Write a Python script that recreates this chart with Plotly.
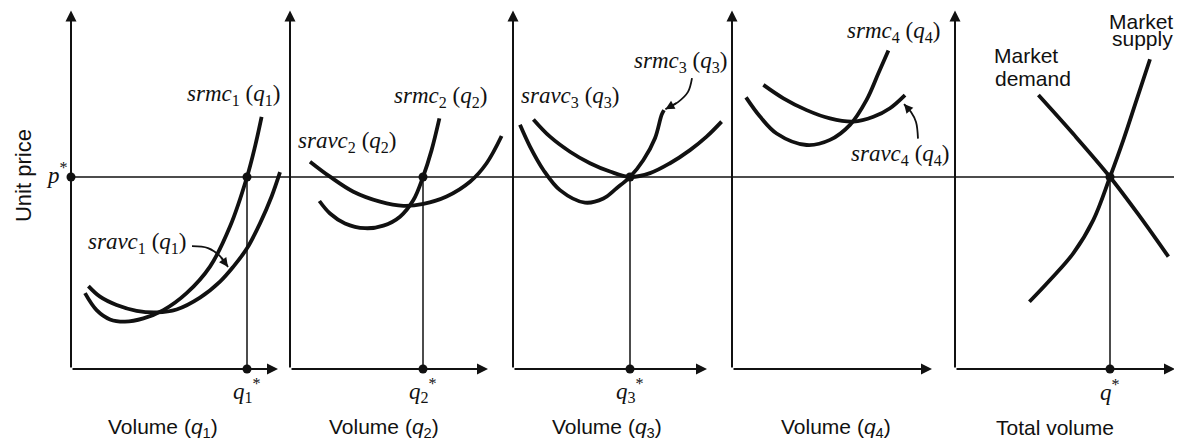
import plotly.graph_objects as go

# ---------------- data (panel-local units: volume, unit price) ----------------
P_STAR = 6.0
Q_STAR = [8.8, 6.65, 5.85, None, 7.75]
Y_AXIS_TOP = 11.2
X_AXIS_END = [10.35, 9.9, 9.7, 10.0, 11.0]

srmc1_x = [0.70, 1.28, 1.95, 2.70, 3.62, 4.62, 5.78, 6.95, 7.95, 8.80, 9.20, 9.53]
srmc1_y = [2.37, 1.84, 1.55, 1.48, 1.58, 1.84, 2.37, 3.20, 4.45, 6.00, 6.95, 7.88]
sravc1_x = [0.87, 1.45, 2.28, 3.28, 4.28, 5.28, 6.45, 7.45, 8.12, 8.80, 9.45, 10.03, 10.45]
sravc1_y = [2.59, 2.26, 2.00, 1.82, 1.77, 1.86, 2.23, 2.73, 3.20, 3.77, 4.55, 5.39, 6.15]

srmc2_x = [1.47, 2.00, 2.75, 3.75, 4.67, 5.50, 6.17, 6.65, 7.08, 7.47]
srmc2_y = [5.25, 4.86, 4.55, 4.40, 4.48, 4.76, 5.28, 6.00, 6.84, 7.83]
sravc2_x = [1.00, 2.00, 3.17, 4.50, 5.67, 6.67, 7.83, 9.00, 9.83, 10.58]
sravc2_y = [6.48, 6.01, 5.54, 5.23, 5.10, 5.16, 5.39, 5.85, 6.43, 7.28]

srmc3_x = [0.35, 0.85, 1.52, 2.35, 3.60, 4.52, 5.18, 5.85, 6.52, 7.10, 7.43, 7.55]
srmc3_y = [7.63, 6.95, 6.22, 5.59, 5.20, 5.33, 5.65, 6.00, 6.53, 7.21, 7.94, 8.09]
sravc3_x = [1.02, 1.85, 2.85, 3.85, 4.85, 5.85, 6.85, 7.85, 8.85, 9.68, 10.43]
sravc3_y = [7.80, 7.26, 6.79, 6.43, 6.17, 6.00, 6.12, 6.43, 6.84, 7.26, 7.73]

srmc4_x = [0.70, 1.40, 2.23, 3.73, 4.90, 5.90, 6.73, 7.32, 7.82]
srmc4_y = [8.49, 7.89, 7.36, 7.00, 7.16, 7.63, 8.41, 9.24, 9.95]
sravc4_x = [1.57, 2.57, 3.73, 4.90, 6.07, 7.07, 7.90, 8.65]
sravc4_y = [8.88, 8.46, 8.09, 7.83, 7.73, 7.88, 8.15, 8.56]

demand_x = [4.17, 5.92, 7.75, 9.25, 10.67]
demand_y = [8.56, 7.34, 6.00, 4.76, 3.51]
supply_x = [3.72, 4.75, 5.92, 6.92, 7.75, 8.42, 9.08, 9.75]
supply_y = [2.10, 2.78, 3.62, 4.66, 6.00, 7.16, 8.41, 9.68]

x_titles = ["Volume (<i>q</i><sub>1</sub>)", "Volume (<i>q</i><sub>2</sub>)",
            "Volume (<i>q</i><sub>3</sub>)", "Volume (<i>q</i><sub>4</sub>)", "Total volume"]
x_title_pos = [4.6, 4.7, 4.7, 5.2, 5.0]
q_labels = ["<i>q</i><sub>1</sub><sup>*</sup>", "<i>q</i><sub>2</sub><sup>*</sup>",
            "<i>q</i><sub>3</sub><sup>*</sup>", None, "<i>q</i><sup>*</sup>"]

# ---------------- layout geometry ----------------
PAGE_OFFSET = 8                  # default body margin of the written page
W, H = 1182 - PAGE_OFFSET, 441 - PAGE_OFFSET
X_PX, Y_PX = 20.0, 32.0          # pixels per unit
ORIGIN_Y = 369 - PAGE_OFFSET     # pixel row of the volume axes
ORIGIN_X = [p - PAGE_OFFSET for p in (71, 290, 513, 732, 955)]
DOMAINS = [(0, 276), (276, 499), (499, 720), (720, 938), (938, W)]

INK = "#111111"
SANS = "Liberation Sans, Arial, sans-serif"
SERIF = "Liberation Serif, Times New Roman, serif"

fig = go.Figure()
axn = ["x", "x2", "x3", "x4", "x5"]

layout = dict(
    width=W, height=H, margin=dict(l=0, r=0, t=0, b=0, pad=0),
    paper_bgcolor="white", plot_bgcolor="white", showlegend=False,
    yaxis=dict(domain=[0, 1], range=[(ORIGIN_Y - H) / Y_PX, ORIGIN_Y / Y_PX],
               visible=False, fixedrange=True),
)
for i in range(5):
    d0, d1 = DOMAINS[i]
    o = ORIGIN_X[i]
    key = "xaxis" if i == 0 else f"xaxis{i+1}"
    layout[key] = dict(domain=[d0 / W, d1 / W], range=[(d0 - o) / X_PX, (d1 - o) / X_PX],
                       visible=False, anchor="y", fixedrange=True)
fig.update_layout(**layout)

curve = dict(mode="lines", line=dict(color=INK, width=3.8, shape="spline"), hoverinfo="skip")
thin = dict(mode="lines", line=dict(color=INK, width=1.5), hoverinfo="skip")
pointer = dict(mode="lines", line=dict(color=INK, width=1.8, shape="spline"), hoverinfo="skip")
dots = dict(mode="markers", marker=dict(color=INK, size=9), hoverinfo="skip")

curves = [
    [(srmc1_x, srmc1_y), (sravc1_x, sravc1_y)],
    [(srmc2_x, srmc2_y), (sravc2_x, sravc2_y)],
    [(srmc3_x, srmc3_y), (sravc3_x, sravc3_y)],
    [(srmc4_x, srmc4_y), (sravc4_x, sravc4_y)],
    [(demand_x, demand_y), (supply_x, supply_y)],
]

annotations = []
for i in range(5):
    xa = axn[i]
    for cx, cy in curves[i]:
        fig.add_trace(go.Scatter(x=cx, y=cy, xaxis=xa, yaxis="y", **curve))
    q = Q_STAR[i]
    if q is not None:
        fig.add_trace(go.Scatter(x=[q, q], y=[0, P_STAR], xaxis=xa, yaxis="y", **thin))
        fig.add_trace(go.Scatter(x=[q, q], y=[0, P_STAR], xaxis=xa, yaxis="y", **dots))
        annotations.append(dict(x=q, y=-0.66, xref=xa, yref="y", text=q_labels[i],
                                showarrow=False, font=dict(family=SERIF, size=23, color=INK)))
    # axes with arrowheads
    annotations.append(dict(x=0, y=Y_AXIS_TOP, ax=0, ay=0, xref=xa, yref="y", axref=xa, ayref="y",
                            text="", showarrow=True, arrowhead=2, arrowsize=1.1, arrowwidth=2,
                            arrowcolor=INK, standoff=0, startstandoff=0))
    annotations.append(dict(x=X_AXIS_END[i], y=0, ax=0, ay=0, xref=xa, yref="y", axref=xa, ayref="y",
                            text="", showarrow=True, arrowhead=2, arrowsize=1.1, arrowwidth=2,
                            arrowcolor=INK, standoff=0, startstandoff=0))
    annotations.append(dict(x=x_title_pos[i], y=-1.84, xref=xa, yref="y", text=x_titles[i],
                            showarrow=False, font=dict(family=SANS, size=21, color=INK)))

# p* dot on the first price axis
fig.add_trace(go.Scatter(x=[0], y=[P_STAR], xaxis="x", yaxis="y", **dots))

# horizontal p* line across all panels
fig.add_shape(type="line", xref="paper", yref="y", x0=ORIGIN_X[0] / W, x1=1,
              y0=P_STAR, y1=P_STAR, line=dict(color=INK, width=1.5))

lab = dict(family=SERIF, size=23, color=INK)
sans_lab = dict(family=SANS, size=21, color=INK)

def add_label(xa, x, y, text, font=lab):
    annotations.append(dict(xref=xa, yref="y", x=x, y=y, text=text, font=font, showarrow=False))

def curved_pointer(xa, xs, ys):
    fig.add_trace(go.Scatter(x=xs, y=ys, xaxis=xa, yaxis="y", **pointer))
    annotations.append(dict(x=xs[-1], y=ys[-1], ax=xs[-2], ay=ys[-2], xref=xa, yref="y",
                            axref=xa, ayref="y", text="", showarrow=True, arrowhead=2,
                            arrowsize=1.0, arrowwidth=1.8, arrowcolor=INK, standoff=0))

add_label("x", 8.1, 8.56, "<i>srmc</i><sub>1</sub> (<i>q</i><sub>1</sub>)")
add_label("x", 3.3, 3.94, "<i>sravc</i><sub>1</sub> (<i>q</i><sub>1</sub>)")
curved_pointer("x", [6.05, 6.85, 7.45, 7.85], [3.84, 3.78, 3.53, 3.19])
add_label("x2", 7.5, 8.5, "<i>srmc</i><sub>2</sub> (<i>q</i><sub>2</sub>)")
add_label("x2", 2.85, 7.09, "<i>sravc</i><sub>2</sub> (<i>q</i><sub>2</sub>)")
add_label("x3", 8.35, 9.59, "<i>srmc</i><sub>3</sub> (<i>q</i><sub>3</sub>)")
curved_pointer("x3", [8.95, 8.75, 8.25, 7.62], [9.09, 8.66, 8.34, 8.12])
add_label("x3", 2.85, 8.5, "<i>sravc</i><sub>3</sub> (<i>q</i><sub>3</sub>)")
add_label("x4", 8.05, 10.53, "<i>srmc</i><sub>4</sub> (<i>q</i><sub>4</sub>)")
add_label("x4", 8.4, 6.69, "<i>sravc</i><sub>4</sub> (<i>q</i><sub>4</sub>)")
curved_pointer("x4", [9.3, 9.2, 8.95, 8.6], [7.2, 7.72, 8.03, 8.28])
add_label("x5", 3.55, 9.81, "Market", font=sans_lab)
add_label("x5", 3.9, 9.09, "demand", font=sans_lab)
add_label("x5", 9.3, 10.85, "Market", font=sans_lab)
add_label("x5", 9.35, 10.33, "supply", font=sans_lab)

add_label("x", -0.7, P_STAR + 0.1, "<i>p</i><sup>*</sup>")
annotations.append(dict(x=-2.4, y=6.03, xref="x", yref="y", text="Unit price", textangle=-90,
                        showarrow=False, font=dict(family=SANS, size=22, color=INK)))

fig.update_layout(annotations=annotations)
fig.write_html("out.html")
